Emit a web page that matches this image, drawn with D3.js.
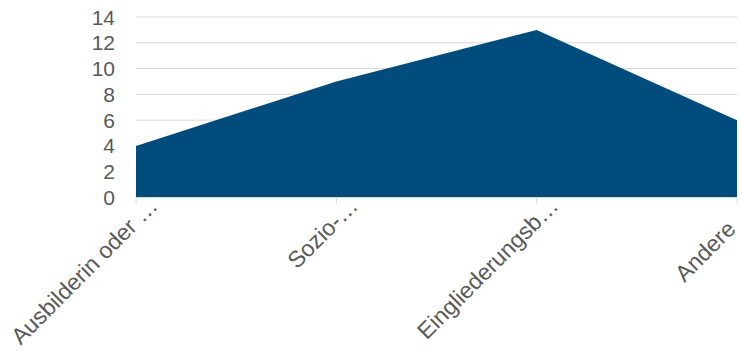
<!DOCTYPE html>
<html>
<head>
<meta charset="utf-8">
<script src="https://cdn.jsdelivr.net/npm/d3@7"></script>
<style>
  html, body { margin: 0; padding: 0; background: #fff; }
  svg { display: block; font-family: "Liberation Sans", Arial, sans-serif; }
</style>
</head>
<body>
<div id="chart"></div>
<script>
const categories = ['Ausbilderin oder …', 'Sozio-…', 'Eingliederungsb…', 'Andere'];
const values = [4, 9, 13, 6];
const yTicks = [0, 2, 4, 6, 8, 10, 12, 14];

const W = 742, H = 351;
const plotLeft = 136, plotRight = 737, plotTop = 17, plotBottom = 197.5;

const svg = d3.select('#chart').append('svg')
  .attr('width', W)
  .attr('height', H);

const x = d3.scalePoint().domain(categories).range([plotLeft, plotRight]);
const y = d3.scaleLinear().domain([0, 14]).range([plotBottom, plotTop]);

// gridlines
svg.append('g')
  .selectAll('line')
  .data(yTicks.filter(d => d > 0))
  .join('line')
  .attr('x1', plotLeft).attr('x2', plotRight)
  .attr('y1', d => y(d)).attr('y2', d => y(d))
  .attr('stroke', '#d9d9d9')
  .attr('stroke-width', 1);

// area
const data = categories.map((c, i) => ({ c, v: values[i] }));
svg.append('path')
  .datum(data)
  .attr('fill', '#004c7d')
  .attr('d', d3.area()
    .x(d => x(d.c))
    .y0(y(0))
    .y1(d => y(d.v)));

// x axis line + ticks
svg.append('line')
  .attr('x1', plotLeft).attr('x2', plotRight)
  .attr('y1', y(0)).attr('y2', y(0))
  .attr('stroke', '#d9d9d9');

svg.append('g')
  .selectAll('line')
  .data(categories)
  .join('line')
  .attr('x1', d => x(d)).attr('x2', d => x(d))
  .attr('y1', y(0)).attr('y2', y(0) + 6)
  .attr('stroke', '#d9d9d9');

// y labels
svg.append('g')
  .selectAll('text')
  .data(yTicks)
  .join('text')
  .attr('x', 115)
  .attr('y', d => y(d))
  .attr('dy', '0.36em')
  .attr('text-anchor', 'end')
  .attr('fill', '#595959')
  .style('font-size', '21px')
  .text(d => d);

// x labels, rotated -45deg; slid back along the baseline if they'd run off the right edge
svg.append('g')
  .selectAll('text')
  .data(categories)
  .join('text')
  .attr('text-anchor', 'end')
  .attr('fill', '#595959')
  .style('font-size', '23px')
  .text(d => d)
  .each(function (d) {
    let ax = x(d) + 23, ay = y(0) + 10;
    const over = ax - (W - 5);
    if (over > 0) { ax -= over; ay += over; }
    d3.select(this).attr('transform', `translate(${ax},${ay}) rotate(-45)`);
  });
</script>
</body>
</html>
